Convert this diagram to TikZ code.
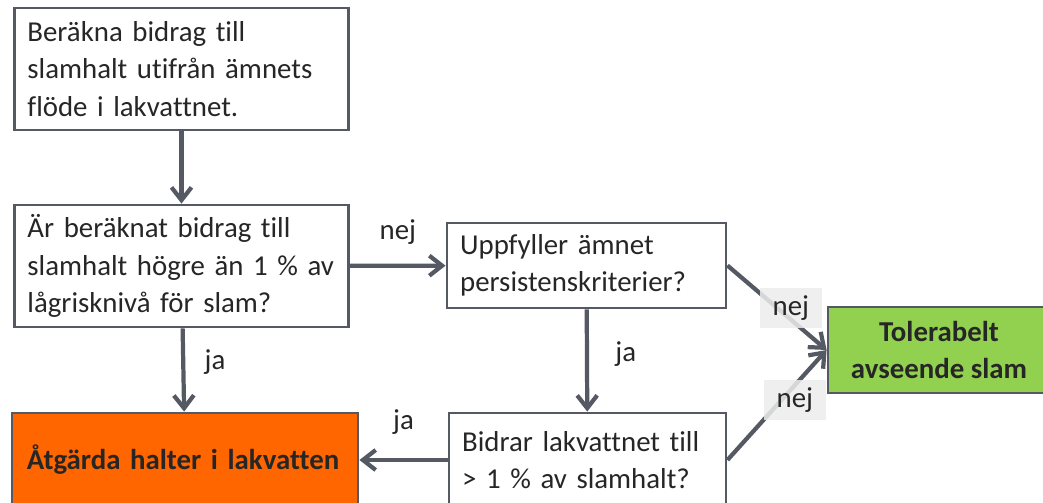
\documentclass[tikz,border=0pt]{standalone}
\usepackage{fontspec}
\setmainfont{Carlito}[Ligatures=NoCommon]
\usetikzlibrary{arrows.meta,positioning}
\definecolor{slate}{RGB}{84,89,99}
\definecolor{actorange}{RGB}{255,102,0}
\definecolor{okgreen}{RGB}{146,208,80}
\definecolor{inktext}{RGB}{38,38,38}
\definecolor{lblgray}{RGB}{236,236,236}

\begin{document}
\begin{tikzpicture}[x=0.025cm, y=-0.025cm,
    qbox/.style={rectangle, draw=slate, line width=2pt, fill=white,
        align=left, inner xsep=0.33cm, inner ysep=0pt, text=inktext,
        font=\fontsize{20.5}{26.5}\selectfont},
    actbox/.style={rectangle, draw=slate, line width=2pt, fill=actorange,
        align=left, inner xsep=0.375cm, text width=7.9cm,
        minimum height=2.35cm, text=inktext,
        font=\fontsize{20.5}{26.5}\selectfont\bfseries},
    okbox/.style={rectangle, draw=slate, line width=2pt, fill=okgreen,
        align=center, minimum width=5.55cm, minimum height=2.15cm,
        text=inktext, font=\fontsize{20.5}{26}\selectfont\bfseries},
    arrflow/.style={-{Straight Barb[length=0.32cm,width=0.5cm]},
        line width=3pt, slate},
    lbl/.style={text=inktext, font=\fontsize{20.5}{26.5}\selectfont,
        inner sep=1pt},
    nejlbl/.style={lbl, fill=lblgray, fill opacity=0.85, text opacity=1,
        minimum width=1.55cm, minimum height=1.0cm}
]
    \useasboundingbox (0,0) rectangle (1043,503);

    % left column
    \node[qbox, text width=7.7cm, minimum height=3.05cm] (q1) at (181.5,69)
        {Beräkna bidrag till\\slamhalt utifrån ämnets\\flöde i lakvattnet.};
    \node[qbox, text width=7.7cm, minimum height=3.05cm] (q2) at (181.5,266)
        {Är beräknat bidrag till\\slamhalt högre än 1 \% av\\lågrisknivå för slam?};
    \node[actbox] (act) at (185,460) {Åtgärda halter i lakvatten};

    % middle column
    \node[qbox, text width=6.315cm, minimum height=2.125cm] (q3) at (586.5,265.5)
        {Uppfyller ämnet\\persistenskriterier?};
    \node[qbox, text width=6.265cm, minimum height=2.35cm] (q4) at (587.5,460)
        {Bidrar lakvattnet till\\> 1 \% av slamhalt?};

    % outcome
    \node[okbox] (ok) at (939,350) {Tolerabelt\\avseende slam};

    \draw[arrflow] (q1) -- (q2);
    \draw[arrflow] (q2) -- node[lbl, yshift=0.85cm] (nej1) {nej} (q3);
    \draw[arrflow] (q2) -- node[lbl, xshift=0.79cm, yshift=0.2cm] (ja1) {ja} (act);
    \draw[arrflow] (q3) -- node[lbl, xshift=0.97cm, yshift=0.16cm] (ja2) {ja} (q4);
    \draw[arrflow] (q4) -- node[lbl, yshift=0.95cm] (ja3) {ja} (act);

    % both "nej" answers end at the green box
    \draw[arrflow] (q3.east) -- node[nejlbl, pos=0.64, yshift=0.3cm] (nej2) {nej} (ok.west);
    \draw[arrflow] (q4.east) -- node[nejlbl, pos=0.68, yshift=-0.37cm] (nej3) {nej} (ok.west);
\end{tikzpicture}
\end{document}
